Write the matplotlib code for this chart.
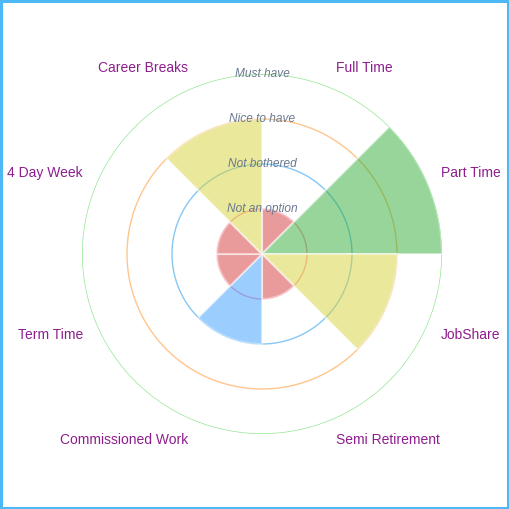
import numpy as np
import matplotlib
matplotlib.use("Agg")
import matplotlib.pyplot as plt
from matplotlib.patches import Rectangle

plt.rcParams["font.family"] = ["Liberation Sans", "DejaVu Sans"]

# data
categories = ["Full Time", "Part Time", "JobShare", "Semi Retirement",
              "Commissioned Work", "Term Time", "4 Day Week", "Career Breaks"]
values = [1, 4, 3, 1, 2, 1, 1, 3]
level_labels = ["Not an option", "Not bothered", "Nice to have", "Must have"]

# colours per level (fill) and grid ring colours
level_fill = {1: "#D53838", 2: "#399DFF", 3: "#D7D337", 4: "#31AD37"}
ring_colors = ["#FF6384", "#36A2EB", "#FF9F40", "#4BD64B"]

W = 509
fig = plt.figure(figsize=(W / 100, W / 100), dpi=100)
fig.patch.set_facecolor("white")

# frame around the chart
fig.add_artist(Rectangle((0.002, 0.002), 0.996, 0.996, transform=fig.transFigure,
                         fill=False, edgecolor="#4DB8F5", linewidth=2.2))

cx, cy, R = 262, 255, 180
ax = fig.add_axes([(cx - R) / W, (cy - R) / W, 2 * R / W, 2 * R / W], projection="polar")
ax.set_theta_zero_location("N")
ax.set_theta_direction(-1)
ax.set_ylim(0, 4)
ax.set_axis_off()

# grid rings
t = np.linspace(0, 2 * np.pi, 400)
for lvl, col in zip(range(1, 5), ring_colors):
    ax.plot(t, np.full_like(t, lvl), color=col, lw=1.0, alpha=0.6, zorder=1)

# sectors
n = len(categories)
width = 2 * np.pi / n
theta = np.arange(n) * width
ax.bar(theta, values, width=width, align="edge", bottom=0,
       color=[level_fill[v] for v in values], alpha=0.5,
       edgecolor="white", linewidth=1.5, zorder=2)

# tick labels on the rings
for lvl, txt in zip(range(1, 5), level_labels):
    ax.text(0, lvl, txt, ha="center", va="center", fontsize=8.6, style="italic",
            color="#6A7890", zorder=5)

# category labels
for ang, name in zip(theta + width / 2, categories):
    deg = np.degrees(ang)
    ha = "left" if deg < 180 else "right"
    va = "bottom" if (deg < 90 or deg > 270) else "top"
    ax.text(ang, 4.31, name, ha=ha, va=va, fontsize=10,
            color="#8E1E8E", clip_on=False)

fig.savefig("out.png", dpi=100, facecolor="white")
